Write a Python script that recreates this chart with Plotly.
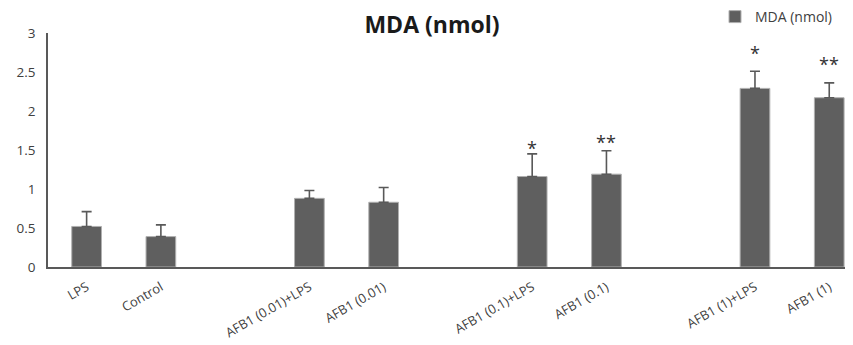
import plotly.graph_objects as go

# ---- data ----
categories = ["LPS", "Control", " ", "AFB1 (0.01)+LPS", "AFB1 (0.01)", "  ",
              "AFB1 (0.1)+LPS", "AFB1 (0.1)", "   ", "AFB1 (1)+LPS", "AFB1 (1)"]
groups = ["LPS", "Control", "AFB1 (0.01)+LPS", "AFB1 (0.01)",
          "AFB1 (0.1)+LPS", "AFB1 (0.1)", "AFB1 (1)+LPS", "AFB1 (1)"]
mda = [0.52, 0.39, 0.88, 0.83, 1.16, 1.19, 2.29, 2.17]
mda_err = [0.19, 0.15, 0.10, 0.19, 0.29, 0.30, 0.22, 0.19]
sig_groups = ["AFB1 (0.1)+LPS", "AFB1 (0.1)", "AFB1 (1)+LPS", "AFB1 (1)"]
sig_labels = ["*", "**", "*", "**"]
sig_y = [1.53, 1.60, 2.74, 2.60]
y_ticks = [0, 0.5, 1, 1.5, 2, 2.5, 3]
y_tick_text = ["0", "0.5", "1", "1.5", "2", "2.5", "3"]

FONT = "Open Sans"
AXIS_COL = "#595959"
TXT_COL = "#404040"

# the page body adds an 8px offset, so the figure is 845x337
W, H = 845, 337

fig = go.Figure()
fig.add_trace(go.Bar(
    x=groups, y=mda, name="MDA (nmol)",
    width=0.40,
    marker=dict(color="#5f5f5f", line=dict(color="#b0b0b0", width=1)),
    error_y=dict(type="data", array=mda_err, symmetric=False,
                 arrayminus=[0] * len(mda_err),
                 color="#595959", thickness=1.6, width=5),
))

for g, lab, yy in zip(sig_groups, sig_labels, sig_y):
    fig.add_annotation(x=g, y=yy, text=lab, showarrow=False,
                       font=dict(family=FONT, size=18, color="#333333"),
                       yanchor="middle")

fig.update_layout(
    width=W, height=H,
    margin=dict(l=40, r=0, t=25, b=78, autoexpand=False),
    plot_bgcolor="white", paper_bgcolor="white",
    title=dict(text="<b>MDA (nmol)</b>", x=424 / W, xanchor="center",
               y=1 - 17 / H, yanchor="middle",
               font=dict(family=FONT, size=23, color="#1a1a1a")),
    showlegend=True,
    legend=dict(xref="container", yref="container",
                x=707 / W, y=1 - 9 / H,
                xanchor="left", yanchor="middle", itemwidth=30,
                font=dict(family=FONT, size=14, color=TXT_COL),
                bgcolor="rgba(0,0,0,0)"),
)
fig.update_xaxes(type="category", categoryorder="array", categoryarray=categories,
                 range=[-0.52, 10.32], showline=True, linecolor=AXIS_COL,
                 linewidth=1.5, ticks="", tickangle=-30, showgrid=False,
                 automargin=False, ticklabelstandoff=6,
                 tickfont=dict(family=FONT, size=13, color=TXT_COL))
fig.update_yaxes(range=[0, 3], tickvals=y_ticks, ticktext=y_tick_text,
                 showline=True, linecolor=AXIS_COL, linewidth=1.5, ticks="",
                 showgrid=False, zeroline=False, ticklabelstandoff=8,
                 automargin=False,
                 tickfont=dict(family=FONT, size=13.5, color=TXT_COL))

fig.write_html("out.html")
